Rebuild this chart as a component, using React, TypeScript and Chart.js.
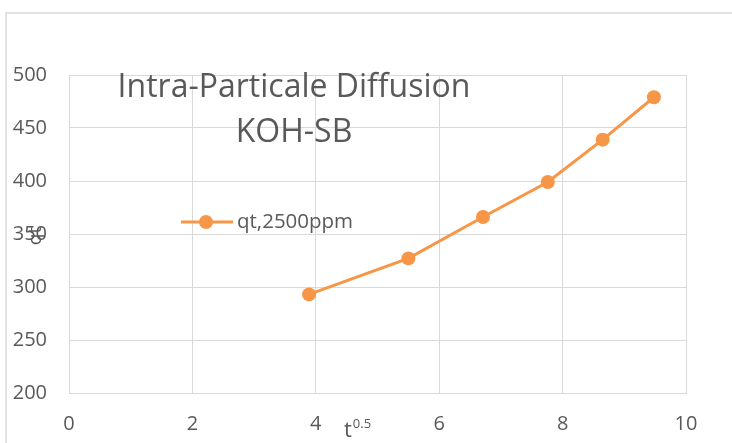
import React, { useEffect, useRef } from "react";
import { Chart, registerables } from "chart.js";

Chart.register(...registerables);

const seriesLabel = "qt,2500ppm";
const titleLines = ["Intra-Particale Diffusion", "KOH-SB"];
const xAxisTitle = "t";
const xAxisSup = "0.5";
const yAxisTitle = "qt";
const tValues = [3.89, 5.5, 6.71, 7.76, 8.65, 9.48];
const qtValues = [293, 327, 366, 399, 439, 479];

const ORANGE = "#F79646";
const TEXT = "#595959";
const GRID = "#d9d9d9";
const FONT = "'Open Sans', 'Liberation Sans', sans-serif";

const decor = {
  id: "decor",
  afterDraw(chart: any) {
    const ctx = chart.ctx as CanvasRenderingContext2D;
    ctx.save();
    // outer chart frame
    ctx.strokeStyle = GRID;
    ctx.lineWidth = 1.5;
    ctx.beginPath();
    ctx.moveTo(6, 443);
    ctx.lineTo(6, 13);
    ctx.lineTo(732, 13);
    ctx.stroke();

    // title
    ctx.fillStyle = TEXT;
    ctx.textAlign = "center";
    ctx.textBaseline = "middle";
    ctx.font = `32px ${FONT}`;
    ctx.fillText(titleLines[0], 294, 88);
    ctx.fillText(titleLines[1], 294, 133);

    // legend
    const ly = 222;
    ctx.strokeStyle = ORANGE;
    ctx.lineWidth = 3;
    ctx.beginPath();
    ctx.moveTo(181, ly);
    ctx.lineTo(233, ly);
    ctx.stroke();
    ctx.fillStyle = ORANGE;
    ctx.beginPath();
    ctx.arc(206, ly, 7, 0, Math.PI * 2);
    ctx.fill();
    ctx.fillStyle = TEXT;
    ctx.textAlign = "left";
    ctx.font = `20.5px ${FONT}`;
    ctx.fillText(seriesLabel, 237, ly);

    // x axis title
    ctx.font = `22px ${FONT}`;
    ctx.textBaseline = "alphabetic";
    ctx.fillText(xAxisTitle, 344, 437);
    const tw = ctx.measureText(xAxisTitle).width;
    ctx.font = `13px ${FONT}`;
    ctx.fillText(xAxisSup, 344 + tw + 1, 428);

    // y axis title
    ctx.translate(36, 236);
    ctx.rotate(-Math.PI / 2);
    ctx.font = `19px ${FONT}`;
    ctx.textAlign = "center";
    ctx.textBaseline = "middle";
    ctx.fillText(yAxisTitle, 0, 0);
    ctx.restore();
  },
};

export default function App() {
  const ref = useRef<HTMLCanvasElement>(null);
  useEffect(() => {
    if (!ref.current) return;
    const chart = new Chart(ref.current, {
      type: "line",
      data: {
        datasets: [
          {
            label: seriesLabel,
            data: tValues.map((t, i) => ({ x: t, y: qtValues[i] })),
            borderColor: ORANGE,
            backgroundColor: ORANGE,
            borderWidth: 3,
            pointRadius: 7,
            pointHoverRadius: 7,
            pointBorderWidth: 0,
            tension: 0,
          },
        ],
      },
      options: {
        responsive: false,
        animation: false,
        layout: { padding: { left: 0, right: 46, top: 75, bottom: 0 } },
        plugins: { legend: { display: false }, title: { display: false }, tooltip: { enabled: false } },
        scales: {
          x: {
            type: "linear",
            min: 0,
            max: 10,
            ticks: { stepSize: 2, color: TEXT, font: { size: 20, family: FONT }, padding: 19 },
            grid: { color: GRID, drawTicks: false },
            border: { color: GRID },
            afterFit(s: any) {
              s.height = 50;
            },
          },
          y: {
            min: 200,
            max: 500,
            ticks: { stepSize: 50, color: TEXT, font: { size: 20, family: FONT }, padding: 22 },
            grid: { color: GRID, drawTicks: false },
            border: { color: GRID },
            afterFit(s: any) {
              s.width = 69;
            },
          },
        },
      },
      plugins: [decor],
    });
    return () => chart.destroy();
  }, []);
  return (
    <div style={{ position: "absolute", left: 0, top: 0, width: 732, height: 443, background: "#fff" }}>
      <canvas ref={ref} width={732} height={443} style={{ display: "block" }} />
    </div>
  );
}
